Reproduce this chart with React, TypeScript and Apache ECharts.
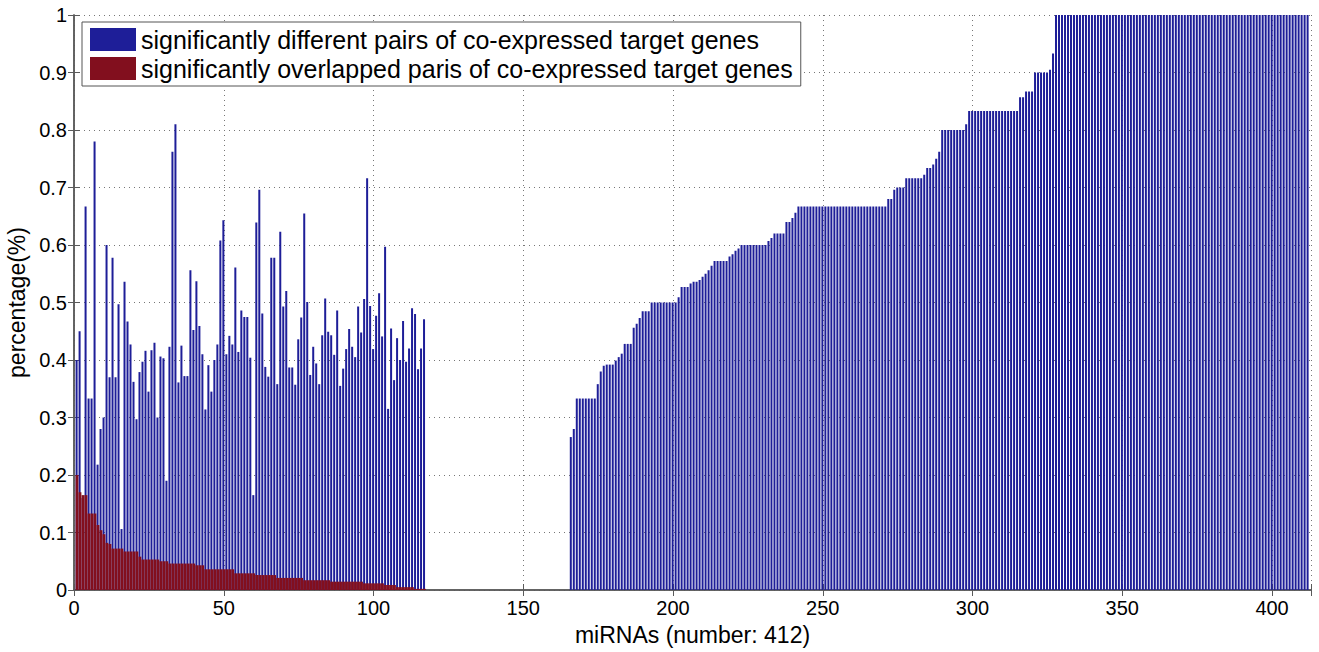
import React, { useEffect, useRef } from "react";
import * as echarts from "echarts";

// blue series: significantly different pairs, miRNAs 1..117
const blueLeft: number[] = [
  0.40, 0.45, 0.16, 0.667, 0.333, 0.333, 0.78, 0.218, 0.28, 0.30,
  0.60, 0.37, 0.578, 0.37, 0.497, 0.106, 0.536, 0.467, 0.427, 0.362,
  0.297, 0.379, 0.397, 0.416, 0.345, 0.417, 0.43, 0.30, 0.406, 0.403,
  0.19, 0.423, 0.762, 0.81, 0.361, 0.425, 0.372, 0.372, 0.556, 0.452,
  0.537, 0.459, 0.41, 0.314, 0.391, 0.345, 0.40, 0.427, 0.608, 0.643,
  0.41, 0.442, 0.427, 0.561, 0.414, 0.486, 0.475, 0.475, 0.404, 0.165,
  0.639, 0.696, 0.481, 0.388, 0.371, 0.578, 0.578, 0.358, 0.623, 0.493,
  0.52, 0.387, 0.387, 0.357, 0.436, 0.474, 0.655, 0.501, 0.374, 0.423,
  0.394, 0.358, 0.443, 0.507, 0.449, 0.443, 0.409, 0.486, 0.355, 0.385,
  0.419, 0.454, 0.423, 0.405, 0.493, 0.448, 0.506, 0.716, 0.494, 0.419,
  0.477, 0.516, 0.441, 0.597, 0.315, 0.455, 0.365, 0.438, 0.40, 0.468,
  0.397, 0.42, 0.49, 0.48, 0.384, 0.42, 0.471,
];

// miRNAs 118..165 (no bars)
const blueGap: number[] = [
  0, 0, 0, 0, 0, 0, 0, 0, 0, 0, 0, 0, 0, 0, 0, 0,
  0, 0, 0, 0, 0, 0, 0, 0, 0, 0, 0, 0, 0, 0, 0, 0,
  0, 0, 0, 0, 0, 0, 0, 0, 0, 0, 0, 0, 0, 0, 0, 0,
];

// miRNAs 166..412 (sorted ascending)
const blueRight: number[] = [
  0.266, 0.28,
  0.333, 0.333, 0.333, 0.333, 0.333, 0.333, 0.333,
  0.358, 0.38, 0.39,
  0.392, 0.392, 0.392,
  0.399, 0.405, 0.411,
  0.428, 0.428, 0.428,
  0.456, 0.463, 0.473,
  0.485, 0.485, 0.485,
  0.5, 0.5, 0.5, 0.5, 0.5, 0.5, 0.5, 0.5, 0.5,
  0.509,
  0.527, 0.527, 0.527,
  0.533,
  0.536, 0.536,
  0.539,
  0.545, 0.55, 0.556, 0.564,
  0.572, 0.572, 0.572, 0.572, 0.572,
  0.58, 0.584, 0.59, 0.594,
  0.6, 0.6, 0.6, 0.6, 0.6, 0.6, 0.6, 0.6, 0.6,
  0.607, 0.612,
  0.62, 0.62, 0.62, 0.62,
  0.64, 0.64,
  0.647, 0.656,
  0.667, 0.667, 0.667, 0.667, 0.667, 0.667, 0.667, 0.667, 0.667, 0.667,
  0.667, 0.667, 0.667, 0.667, 0.667, 0.667, 0.667, 0.667, 0.667, 0.667,
  0.667, 0.667, 0.667, 0.667, 0.667, 0.667, 0.667, 0.667, 0.667, 0.667,
  0.68, 0.68,
  0.696,
  0.7, 0.7, 0.7,
  0.716, 0.716, 0.716, 0.716, 0.716, 0.716,
  0.722,
  0.734, 0.734,
  0.74, 0.75, 0.762,
  0.8, 0.8, 0.8, 0.8, 0.8, 0.8, 0.8, 0.8,
  0.81,
  0.833, 0.833, 0.833, 0.833, 0.833, 0.833, 0.833, 0.833, 0.833, 0.833,
  0.833, 0.833, 0.833, 0.833, 0.833, 0.833, 0.833,
  0.857, 0.857,
  0.867, 0.867, 0.867,
  0.9, 0.9, 0.9, 0.9, 0.9,
  0.905, 0.933,
  1, 1, 1, 1, 1, 1, 1, 1, 1, 1,
  1, 1, 1, 1, 1, 1, 1, 1, 1, 1,
  1, 1, 1, 1, 1, 1, 1, 1, 1, 1,
  1, 1, 1, 1, 1, 1, 1, 1, 1, 1,
  1, 1, 1, 1, 1, 1, 1, 1, 1, 1,
  1, 1, 1, 1, 1, 1, 1, 1, 1, 1,
  1, 1, 1, 1, 1, 1, 1, 1, 1, 1,
  1, 1, 1, 1, 1, 1, 1, 1, 1, 1,
  1, 1, 1, 1, 1,
];

// red series: significantly overlapped pairs, miRNAs 1..117
const redValues: number[] = [
  0.2, 0.17, 0.165, 0.165,
  0.133, 0.133, 0.133,
  0.113, 0.104, 0.097, 0.082, 0.08,
  0.072, 0.072, 0.072, 0.072,
  0.067, 0.067, 0.067, 0.067, 0.067,
  0.058,
  0.053, 0.053, 0.053, 0.053, 0.053, 0.053,
  0.05, 0.05, 0.05,
  0.046, 0.046, 0.046, 0.046, 0.046, 0.046, 0.046, 0.046, 0.046,
  0.043, 0.043, 0.043,
  0.036, 0.036, 0.036, 0.036, 0.036, 0.036, 0.036, 0.036, 0.036, 0.036,
  0.029, 0.029, 0.029, 0.029, 0.029, 0.029, 0.029,
  0.026, 0.026, 0.026, 0.026, 0.026, 0.026, 0.026,
  0.021, 0.021, 0.021, 0.021, 0.021, 0.021, 0.021, 0.021, 0.021,
  0.017, 0.017, 0.017, 0.017, 0.017, 0.017, 0.017, 0.017, 0.017,
  0.0145, 0.0145, 0.0145, 0.0145, 0.0145, 0.0145, 0.0145, 0.0145, 0.0145, 0.0145, 0.0145,
  0.0116, 0.0116, 0.0116, 0.0116, 0.0116, 0.0116, 0.0116,
  0.0087, 0.0087, 0.0087, 0.0087,
  0.005, 0.005, 0.005, 0.005, 0.005, 0.005,
  0.002, 0.002, 0.002, 0.002,
];

const seriesNames = [
  "significantly different pairs of co-expressed target genes",
  "significantly overlapped paris of co-expressed target genes",
];
const xTitle = "miRNAs (number: 412)";
const yTitle = "percentage(%)";

const blueValues = blueLeft.concat(blueGap, blueRight);

export default function App() {
  const ref = useRef<HTMLDivElement>(null);
  useEffect(() => {
    if (!ref.current) return;
    const chart = echarts.init(ref.current, undefined, { renderer: "svg" });
    const font = "'Liberation Sans', Arial, sans-serif";
    const blueData = blueValues.map((v, i) => [i + 1, v]);
    const redData = redValues.map((v, i) => [i + 1, v]);
    const axisLineColor = "#5a5a5a";
    chart.setOption({
      animation: false,
      textStyle: { fontFamily: font },
      grid: {
        left: 74,
        right: 8,
        top: 15,
        bottom: 62,
        containLabel: false,
        outerBoundsMode: "none",
      },
      legend: {
        orient: "vertical",
        left: 82,
        top: 22,
        padding: [5, 8, 5, 8],
        itemGap: 4,
        itemWidth: 46,
        itemHeight: 23,
        icon: "rect",
        borderColor: "#555",
        borderWidth: 1,
        backgroundColor: "#fff",
        textStyle: { fontSize: 25, color: "#000", fontFamily: font },
        data: seriesNames,
      },
      xAxis: [
        {
          type: "value",
          min: 0,
          max: 413,
          interval: 50,
          position: "bottom",
          name: xTitle,
          nameLocation: "middle",
          nameGap: 33,
          nameTextStyle: { fontSize: 23, color: "#000", fontFamily: font },
          axisLine: { show: true, lineStyle: { color: axisLineColor, width: 1.5 } },
          axisTick: { show: true, inside: true, length: 6, lineStyle: { color: axisLineColor } },
          axisLabel: {
            fontSize: 20,
            color: "#000",
            margin: 8,
            formatter: (v: number) => (v % 50 === 0 ? String(v) : ""),
          },
          splitLine: { show: true, lineStyle: { type: [1, 4], color: "#777", width: 1 } },
        },
        {
          type: "value",
          min: 0,
          max: 413,
          interval: 50,
          position: "top",
          axisLine: { show: true, lineStyle: { color: axisLineColor, width: 1.5 } },
          axisTick: { show: true, inside: true, length: 6, lineStyle: { color: axisLineColor } },
          axisLabel: { show: false },
          splitLine: { show: false },
        },
      ],
      yAxis: [
        {
          type: "value",
          min: 0,
          max: 1,
          interval: 0.1,
          position: "left",
          name: yTitle,
          nameLocation: "middle",
          nameGap: 44,
          nameTextStyle: { fontSize: 23, color: "#000", fontFamily: font },
          axisLine: { show: true, lineStyle: { color: axisLineColor, width: 1.5 } },
          axisTick: { show: true, inside: true, length: 6, lineStyle: { color: axisLineColor } },
          axisLabel: { fontSize: 20, color: "#000", margin: 7 },
          splitLine: { show: true, lineStyle: { type: [1, 4], color: "#777", width: 1 } },
        },
        {
          type: "value",
          min: 0,
          max: 1,
          interval: 0.1,
          position: "right",
          axisLine: { show: true, lineStyle: { color: axisLineColor, width: 1.5 } },
          axisTick: { show: true, inside: true, length: 6, lineStyle: { color: axisLineColor } },
          axisLabel: { show: false },
          splitLine: { show: false },
        },
      ],
      series: [
        {
          name: seriesNames[0],
          type: "bar",
          xAxisIndex: 0,
          yAxisIndex: 0,
          barWidth: 2,
          barGap: "-100%",
          itemStyle: { color: "#1e1e98" },
          data: blueData,
        },
        {
          name: seriesNames[1],
          type: "bar",
          xAxisIndex: 0,
          yAxisIndex: 0,
          barWidth: 2.8,
          barGap: "-100%",
          itemStyle: { color: "#820f1e" },
          data: redData,
        },
      ],
    });
    return () => chart.dispose();
  }, []);
  return (
    <div
      ref={ref}
      style={{ position: "fixed", left: 0, top: 0, width: 1319, height: 652, background: "#fff" }}
    />
  );
}
